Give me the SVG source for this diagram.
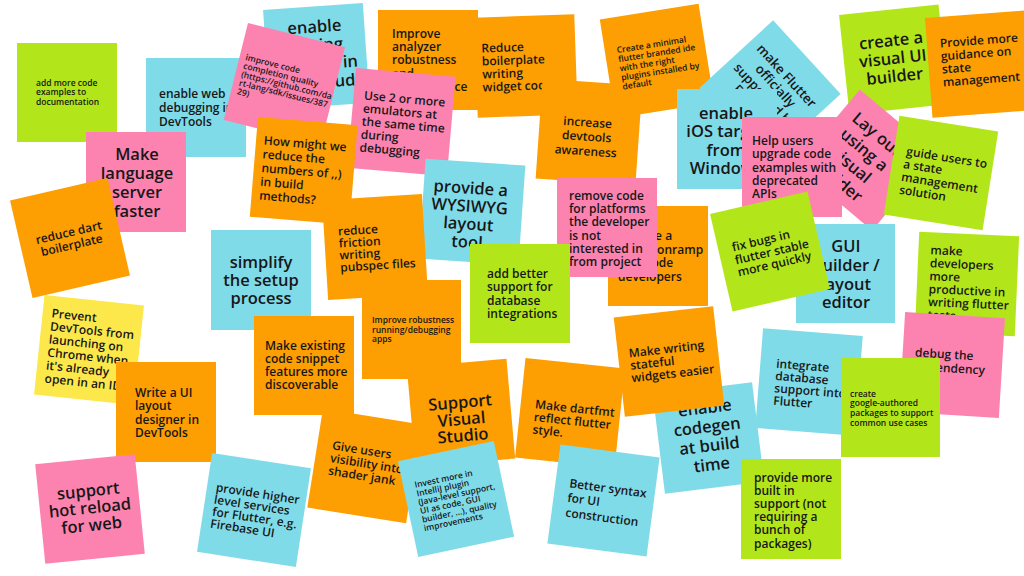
<svg xmlns="http://www.w3.org/2000/svg" width="1024" height="576" viewBox="0 0 1024 576">
<style>
.g{fill:#b3e61a}.b{fill:#80dbe8}.p{fill:#fc83b0}.o{fill:#fd9e02}.y{fill:#fde84b}
text{font-family:"Open Sans","Liberation Sans",sans-serif;font-weight:600;fill:#171717}
.s{font-size:8.5px}.m{font-size:12px}.l{font-size:16.5px;text-anchor:middle}.mc{font-size:12px;text-anchor:middle}
</style>
<rect width="1024" height="576" fill="#ffffff"/>

<g id="n-add-more-code"><rect class="g" x="17" y="43" width="100" height="99"/>
<text class="s"><tspan x="36" y="86">add more code</tspan><tspan x="36" y="95">examples to</tspan><tspan x="36" y="104.5">documentation</tspan></text></g>

<g id="n-enable-web"><rect class="b" x="146" y="58" width="100" height="99"/>
<text class="m"><tspan x="159" y="98">enable web</tspan><tspan x="159" y="112">debugging in</tspan><tspan x="159" y="125.5">DevTools</tspan></text></g>

<g id="n-enable-cloud" transform="translate(316.4,56.4) rotate(-4)"><rect class="b" x="-50" y="-50" width="100" height="100"/>
<text class="l"><tspan x="0" y="-24">enable</tspan><tspan x="0" y="-5.5">testing</tspan><tspan x="0" y="13">running in</tspan><tspan x="0" y="31.5">the cloud</tspan></text></g>

<g id="n-improve-completion" transform="translate(284.4,83.6) rotate(14)"><rect class="p" x="-50" y="-50" width="100" height="100"/>
<text class="s"><tspan x="-44" y="-13.5">improve code</tspan><tspan x="-44" y="-4.7">completion quality</tspan><tspan x="-44" y="4.1">(https://github.com/da</tspan><tspan x="-44" y="12.9">rt-lang/sdk/issues/387</tspan><tspan x="-44" y="21.7">29)</tspan></text></g>

<g id="n-language-server"><rect class="p" x="86" y="132" width="100" height="100"/>
<text class="l"><tspan x="137" y="160">Make</tspan><tspan x="137" y="179">language</tspan><tspan x="137" y="198">server</tspan><tspan x="137" y="216.5">faster</tspan></text></g>

<g id="n-reduce-dart" transform="translate(70,238) rotate(-13)"><rect class="o" x="-50" y="-50" width="100" height="100"/>
<text class="mc"><tspan x="0" y="-1.5">reduce dart</tspan><tspan x="0" y="11.5">boilerplate</tspan></text></g>

<g id="n-prevent-devtools" transform="translate(89,350) rotate(6)"><rect class="y" x="-50" y="-50" width="100" height="100"/>
<text class="m"><tspan x="-41" y="-28.5">Prevent</tspan><tspan x="-41" y="-15.4">DevTools from</tspan><tspan x="-41" y="-2.3">launching on</tspan><tspan x="-41" y="10.8">Chrome when</tspan><tspan x="-41" y="23.9">it's already</tspan><tspan x="-41" y="37">open in an IDE</tspan></text></g>

<g id="n-write-ui"><rect class="o" x="116" y="362" width="100" height="100"/>
<text class="m"><tspan x="135" y="397">Write a UI</tspan><tspan x="135" y="410">layout</tspan><tspan x="135" y="423.5">designer in</tspan><tspan x="135" y="436.5">DevTools</tspan></text></g>

<g id="n-hot-reload" transform="translate(90,509) rotate(-5.8)"><rect class="p" x="-50" y="-50" width="100" height="100"/>
<text class="l"><tspan x="0" y="-12.5">support</tspan><tspan x="0" y="4.5">hot reload</tspan><tspan x="0" y="22">for web</tspan></text></g>

<g id="n-higher-level" transform="translate(254,510) rotate(8.7)"><rect class="b" x="-50" y="-50" width="100" height="100"/>
<text class="m"><tspan x="-41" y="-12.6">provide higher</tspan><tspan x="-41" y="-0.4">level services</tspan><tspan x="-41" y="11.8">for Flutter, e.g.</tspan><tspan x="-41" y="24">Firebase UI</tspan></text></g>

<g id="n-simplify"><rect class="b" x="211" y="230" width="100" height="100"/>
<text class="l"><tspan x="261" y="267.5">simplify</tspan><tspan x="261" y="285.5">the setup</tspan><tspan x="261" y="303.5">process</tspan></text></g>

<g id="n-analyzer"><rect class="o" x="378" y="10" width="100" height="100"/>
<text class="m"><tspan x="392" y="37.5">Improve</tspan><tspan x="392" y="51">analyzer</tspan><tspan x="392" y="64">robustness</tspan><tspan x="392" y="77.5">and</tspan><tspan x="392" y="90.5">performance</tspan></text></g>

<g id="n-reduce-boilerplate" transform="translate(526,66) rotate(-2)"><rect class="o" x="-50" y="-50" width="100" height="100"/>
<text class="m"><tspan x="-44" y="-15">Reduce</tspan><tspan x="-44" y="-2">boilerplate</tspan><tspan x="-44" y="11">writing</tspan><tspan x="-44" y="24">widget code</tspan></text></g>

<g id="n-emulators" transform="translate(401.4,122.2) rotate(5)"><rect class="p" x="-50" y="-50" width="100" height="100"/>
<text class="m"><tspan x="-39.4" y="-19.3">Use 2 or more</tspan><tspan x="-39.4" y="-6.3">emulators at</tspan><tspan x="-39.4" y="6.7">the same time</tspan><tspan x="-39.4" y="19.7">during</tspan><tspan x="-39.4" y="32.8">debugging</tspan></text></g>

<g id="n-how-might-we" transform="translate(303.7,170.9) rotate(4.7)"><rect class="o" x="-50" y="-50" width="100" height="100"/>
<text class="m"><tspan x="-42.3" y="-23">How might we</tspan><tspan x="-42.3" y="-9.2">reduce the</tspan><tspan x="-42.3" y="4.6">numbers of ,,)</tspan><tspan x="-42.3" y="18.4">in build</tspan><tspan x="-42.3" y="32.2">methods?</tspan></text></g>

<g id="n-wysiwyg" transform="translate(472,212) rotate(4)"><rect class="b" x="-50" y="-50" width="100" height="100"/>
<text class="l"><tspan x="-2.8" y="-18">provide a</tspan><tspan x="-2.8" y="0">WYSIWYG</tspan><tspan x="-2.8" y="18">layout</tspan><tspan x="-2.8" y="36">tool</tspan></text></g>

<g id="n-pubspec" transform="translate(375,247) rotate(-3.5)"><rect class="o" x="-50" y="-50" width="100" height="100"/>
<text class="m"><tspan x="-36" y="-13.7">reduce</tspan><tspan x="-36" y="-1.6">friction</tspan><tspan x="-36" y="10.4">writing</tspan><tspan x="-36" y="22.5">pubspec files</tspan></text></g>

<g id="n-robustness-running"><rect class="o" x="362" y="280" width="99" height="99"/>
<text class="s"><tspan x="372" y="323">Improve robustness</tspan><tspan x="372" y="333">running/debugging</tspan><tspan x="372" y="342">apps</tspan></text></g>

<g id="n-snippets"><rect class="o" x="254" y="316" width="100" height="99"/>
<text class="m"><tspan x="265" y="349.5">Make existing</tspan><tspan x="265" y="362.5">code snippet</tspan><tspan x="265" y="376">features more</tspan><tspan x="265" y="389">discoverable</tspan></text></g>

<g id="n-devtools-awareness" transform="translate(589,132) rotate(4)"><rect class="o" x="-50" y="-50" width="100" height="100"/>
<text class="mc"><tspan x="-2" y="-5.3">increase</tspan><tspan x="-2" y="8.8">devtools</tspan><tspan x="-2" y="23.5">awareness</tspan></text></g>

<g id="n-minimal-ide" transform="translate(657,61) rotate(-9)"><rect class="o" x="-50" y="-50" width="100" height="100"/>
<text class="s"><tspan x="-38" y="-14">Create a minimal</tspan><tspan x="-38" y="-4.8">flutter branded ide</tspan><tspan x="-38" y="4.5">with the right</tspan><tspan x="-38" y="13.8">plugins installed by</tspan><tspan x="-38" y="23">default</tspan></text></g>

<g id="n-onramp"><rect class="o" x="608" y="206" width="100" height="100"/>
<text class="m"><tspan x="618" y="240">Provide a</tspan><tspan x="618" y="253.5">better onramp</tspan><tspan x="618" y="267">for Xcode</tspan><tspan x="618" y="280.5">developers</tspan></text></g>

<g id="n-remove-code"><rect class="p" x="557" y="178" width="100" height="99"/>
<text class="m"><tspan x="569" y="200">remove code</tspan><tspan x="569" y="213.2">for platforms</tspan><tspan x="569" y="226.4">the developer</tspan><tspan x="569" y="239.6">is not</tspan><tspan x="569" y="252.8">interested in</tspan><tspan x="569" y="266">from project</tspan></text></g>

<g id="n-database-support"><rect class="g" x="470" y="244" width="100" height="99"/>
<text class="m"><tspan x="487" y="277.5">add better</tspan><tspan x="487" y="291">support for</tspan><tspan x="487" y="304.5">database</tspan><tspan x="487" y="317.5">integrations</tspan></text></g>

<g id="n-firebase" transform="translate(770,91) rotate(47.5)"><rect class="b" x="-50" y="-50" width="100" height="100"/>
<text class="mc" style="font-size:13px"><tspan x="0" y="-18">make Flutter</tspan><tspan x="0" y="-3">officially</tspan><tspan x="0" y="12">supported by</tspan><tspan x="0" y="27">Firebase</tspan></text></g>

<g id="n-ios-windows"><rect class="b" x="677" y="89" width="100" height="100"/>
<text class="l"><tspan x="726" y="118.5">enable</tspan><tspan x="726" y="137">iOS target</tspan><tspan x="726" y="155.5">from</tspan><tspan x="726" y="174">Windows</tspan></text></g>

<g id="n-visual-ui" transform="translate(894,59.5) rotate(-6)"><rect class="g" x="-50" y="-50" width="100" height="100"/>
<text class="l"><tspan x="-1" y="-13.5">create a</tspan><tspan x="-1" y="4.5">visual UI</tspan><tspan x="-1" y="22.5">builder</tspan></text></g>

<g id="n-state-guidance" transform="translate(978.6,64.1) rotate(-4.3)"><rect class="o" x="-50" y="-50" width="100" height="100"/>
<text class="m"><tspan x="-37" y="-19.4">Provide more</tspan><tspan x="-37" y="-6.4">guidance on</tspan><tspan x="-37" y="6.6">state</tspan><tspan x="-37" y="19.7">management</tspan></text></g>

<g id="n-lay-out" transform="translate(866,160) rotate(40)"><rect class="p" x="-50" y="-50" width="100" height="100"/>
<text class="l"><tspan x="-8" y="-21">Lay out</tspan><tspan x="-8" y="-1">using a</tspan><tspan x="-8" y="19">visual</tspan><tspan x="-8" y="39">builder</tspan></text></g>

<g id="n-upgrade-examples"><rect class="p" x="742" y="117" width="100" height="100"/>
<text class="m"><tspan x="752" y="144.5">Help users</tspan><tspan x="752" y="158">upgrade code</tspan><tspan x="752" y="171.5">examples with</tspan><tspan x="752" y="185">deprecated</tspan><tspan x="752" y="198">APIs</tspan></text></g>

<g id="n-guide-state" transform="translate(941,173) rotate(9)"><rect class="g" x="-50" y="-50" width="100" height="100"/>
<text class="m"><tspan x="-37.5" y="-12">guide users to</tspan><tspan x="-38.5" y="1">a state</tspan><tspan x="-38.5" y="14">management</tspan><tspan x="-38.5" y="27">solution</tspan></text></g>

<g id="n-gui-builder"><rect class="b" x="796" y="224" width="99" height="99"/>
<text class="l"><tspan x="846" y="251.5">GUI</tspan><tspan x="846" y="270.5">builder /</tspan><tspan x="846" y="289.5">layout</tspan><tspan x="846" y="308">editor</tspan></text></g>

<g id="n-fix-bugs" transform="translate(770,251.5) rotate(-13)"><rect class="g" x="-50" y="-50" width="100" height="100"/>
<text class="m"><tspan x="-36" y="-8.4">fix bugs in</tspan><tspan x="-36" y="4.9">flutter stable</tspan><tspan x="-36" y="17.3">more quickly</tspan></text></g>

<g id="n-tests" transform="translate(967,284) rotate(2.5)"><rect class="g" x="-50" y="-50" width="100" height="100"/>
<text class="m"><tspan x="-38" y="-28.2">make</tspan><tspan x="-38" y="-15.2">developers</tspan><tspan x="-38" y="-2.2">more</tspan><tspan x="-38" y="10.8">productive in</tspan><tspan x="-38" y="23.8">writing flutter</tspan><tspan x="-38" y="36.8">tests</tspan></text></g>

<g id="n-debug-dependency" transform="translate(952,365) rotate(3.5)"><rect class="p" x="-50" y="-50" width="100" height="100"/>
<text class="m"><tspan x="-37.6" y="-6.2">debug the</tspan><tspan x="-37.6" y="7.5">dependency</tspan></text></g>

<g id="n-integrate-db" transform="translate(809,382) rotate(4.5)"><rect class="b" x="-50" y="-50" width="100" height="100"/>
<text class="m"><tspan x="-34" y="-11.7">integrate</tspan><tspan x="-34" y="0.7">database</tspan><tspan x="-34" y="13">support into</tspan><tspan x="-34" y="25.4">Flutter</tspan></text></g>

<g id="n-google-packages"><rect class="g" x="841" y="358" width="99" height="99"/>
<text class="s"><tspan x="850" y="397">create</tspan><tspan x="850" y="406">google-authored</tspan><tspan x="850" y="416">packages to support</tspan><tspan x="850" y="426">common use cases</tspan></text></g>

<g id="n-codegen" transform="translate(708.5,438) rotate(-7)"><rect class="b" x="-50" y="-50" width="100" height="100"/>
<text class="l"><tspan x="0" y="-24.7">enable</tspan><tspan x="0" y="-5.6">codegen</tspan><tspan x="0" y="13.5">at build</tspan><tspan x="0" y="32.6">time</tspan></text></g>

<g id="n-stateful" transform="translate(669,361.5) rotate(-6.4)"><rect class="o" x="-50" y="-50" width="100" height="100"/>
<text class="m"><tspan x="-39" y="-8.5">Make writing</tspan><tspan x="-39" y="4">stateful</tspan><tspan x="-39" y="16.5">widgets easier</tspan></text></g>

<g id="n-built-in"><rect class="g" x="741" y="459" width="100" height="100"/>
<text class="m"><tspan x="754" y="481.5">provide more</tspan><tspan x="754" y="494.7">built in</tspan><tspan x="754" y="507.9">support (not</tspan><tspan x="754" y="521.1">requiring a</tspan><tspan x="754" y="534.3">bunch of</tspan><tspan x="754" y="547.5">packages)</tspan></text></g>

<g id="n-visual-studio" transform="translate(461,413) rotate(-5)"><rect class="o" x="-50" y="-50" width="100" height="100"/>
<text class="l"><tspan x="0" y="-5">Support</tspan><tspan x="0" y="12">Visual</tspan><tspan x="0" y="28.5">Studio</tspan></text></g>

<g id="n-shader-jank" transform="translate(364.5,466) rotate(9)"><rect class="o" x="-50" y="-50" width="100" height="100"/>
<text class="m"><tspan x="-35" y="-11.3">Give users</tspan><tspan x="-35" y="1.5">visibility into</tspan><tspan x="-35" y="14.2">shader jank</tspan></text></g>

<g id="n-intellij" transform="translate(456,499) rotate(-12)"><rect class="b" x="-49" y="-49" width="98" height="98"/>
<text class="s"><tspan x="-37.5" y="-19.4">Invest more in</tspan><tspan x="-37.5" y="-10.5">IntelliJ plugin</tspan><tspan x="-37.5" y="-1.6">(Java-level support,</tspan><tspan x="-37.5" y="7.3">UI as code, GUI</tspan><tspan x="-37.5" y="16.2">builder, ...), quality</tspan><tspan x="-37.5" y="25.1">improvements</tspan></text></g>

<g id="n-dartfmt" transform="translate(570,413) rotate(6)"><rect class="o" x="-50" y="-50" width="100" height="100"/>
<text class="m"><tspan x="-35.5" y="-1">Make dartfmt</tspan><tspan x="-35.5" y="11.7">reflect flutter</tspan><tspan x="-35.5" y="24.4">style.</tspan></text></g>

<g id="n-ui-syntax" transform="translate(603.5,500.5) rotate(7.5)"><rect class="b" x="-50" y="-50" width="100" height="100"/>
<text class="m"><tspan x="-36" y="-8.5">Better syntax</tspan><tspan x="-36" y="6">for UI</tspan><tspan x="-36" y="21">construction</tspan></text></g>
</svg>
